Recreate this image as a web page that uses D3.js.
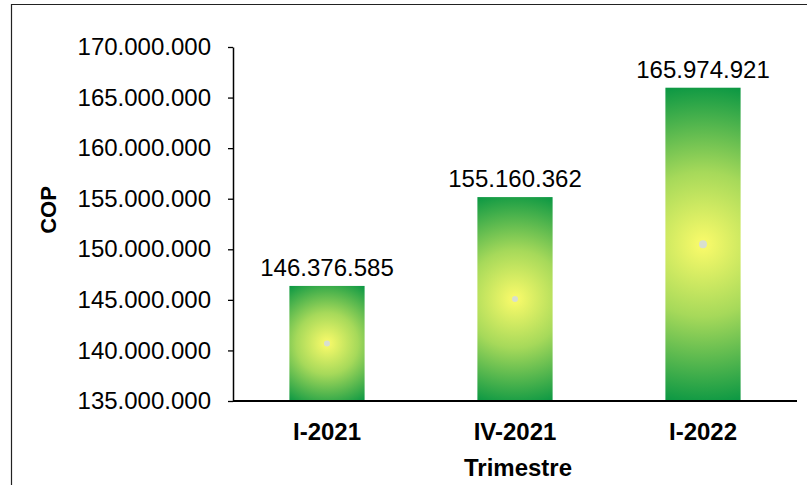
<!DOCTYPE html>
<html>
<head>
<meta charset="utf-8">
<script src="https://cdn.jsdelivr.net/npm/d3@7"></script>
<style>
  body { margin: 0; background: #fff; }
  svg { display: block; font-family: Arial, "Liberation Sans", sans-serif; }
</style>
</head>
<body>
<div id="chart"></div>
<script>
var categories = ["I-2021", "IV-2021", "I-2022"];
var values = [146376585, 155160362, 165974921];
var yTicks = [135000000, 140000000, 145000000, 150000000, 155000000, 160000000, 165000000, 170000000];

var width = 807,
    height = 485,
    plotLeft = 233, plotRight = 797, plotTop = 47, plotBottom = 401;

var svg = d3.select("#chart")
  .append("svg")
    .attr("width", width)
    .attr("height", height);

// separador de miles con punto
var loc = d3.formatLocale({decimal: ",", thousands: ".", grouping: [3], currency: ["", ""]});
var fmt = loc.format(",d");

var x = d3.scaleBand()
  .domain(categories)
  .range([plotLeft, plotRight])
  .paddingInner(0.6)
  .paddingOuter(0.3);

var y = d3.scaleLinear()
  .domain([135000000, 170000000])
  .range([plotBottom, plotTop]);

// marco del area del grafico
svg.append("path")
  .attr("d", "M11.5,485V4.5H807")
  .attr("fill", "none")
  .attr("stroke", "#222")
  .attr("stroke-width", 1.2);

var defs = svg.append("defs");

values.forEach(function(v, i) {
  var bx = x(categories[i]), bw = x.bandwidth();
  var by = y(v), bh = plotBottom - by;
  var g = defs.append("radialGradient")
    .attr("id", "grad" + i)
    .attr("gradientUnits", "userSpaceOnUse")
    .attr("cx", bx + bw / 2)
    .attr("cy", by + bh / 2)
    .attr("r", Math.sqrt(bw * bw + bh * bh) / 2);
  g.append("stop").attr("offset", "0%").attr("stop-color", "#fbfb6a");
  g.append("stop").attr("offset", "45%").attr("stop-color", "#a6d95a");
  g.append("stop").attr("offset", "100%").attr("stop-color", "#0a9743");
});

svg.selectAll(".bar")
  .data(values)
  .enter()
  .append("rect")
    .attr("class", "bar")
    .attr("x", function(d, i) { return x(categories[i]); })
    .attr("y", function(d) { return y(d); })
    .attr("width", x.bandwidth())
    .attr("height", function(d) { return plotBottom - y(d); })
    .attr("fill", function(d, i) { return "url(#grad" + i + ")"; });

// punto gris en el centro del degradado
svg.selectAll(".dot")
  .data(values)
  .enter()
  .append("circle")
    .attr("cx", function(d, i) { return x(categories[i]) + x.bandwidth() / 2; })
    .attr("cy", function(d) { return (y(d) + plotBottom) / 2; })
    .attr("r", function(d, i) { return i == 2 ? 4 : 3; })
    .attr("fill", "#d8dfcf");

svg.selectAll(".lbl")
  .data(values)
  .enter()
  .append("text")
    .text(function(d) { return fmt(d); })
    .attr("x", function(d, i) { return x(categories[i]) + x.bandwidth() / 2; })
    .attr("y", function(d) { return y(d) - 10; })
    .attr("text-anchor", "middle")
    .style("font-size", "24px")
    .attr("fill", "#000");

var yAxis = svg.append("g")
  .attr("transform", "translate(" + plotLeft + ",0)")
  .call(d3.axisLeft(y).tickValues(yTicks).tickFormat(fmt).tickSize(5).tickSizeOuter(0).tickPadding(17));
yAxis.select(".domain").attr("stroke", "#000").attr("stroke-width", 1.5);
yAxis.selectAll(".tick line").attr("stroke", "#000").attr("stroke-width", 1.3);
yAxis.selectAll("text").style("font-size", "24px").attr("fill", "#000").attr("font-family", null);

svg.append("line")
  .attr("x1", plotLeft).attr("x2", plotRight)
  .attr("y1", plotBottom).attr("y2", plotBottom)
  .attr("stroke", "#000")
  .attr("stroke-width", 2);

svg.selectAll(".xl")
  .data(categories)
  .enter()
  .append("text")
    .text(function(d) { return d; })
    .attr("x", function(d) { return x(d) + x.bandwidth() / 2; })
    .attr("y", 440)
    .attr("text-anchor", "middle")
    .style("font-size", "24px")
    .style("font-weight", "bold");

svg.append("text")
  .text("Trimestre")
  .attr("x", (plotLeft + plotRight) / 2 + 3)
  .attr("y", 476)
  .attr("text-anchor", "middle")
  .style("font-size", "24px")
  .style("font-weight", "bold");

svg.append("text")
  .text("COP")
  .attr("transform", "translate(56,210) rotate(-90)")
  .attr("text-anchor", "middle")
  .style("font-size", "22px")
  .style("font-weight", "bold");
</script>
</body>
</html>
